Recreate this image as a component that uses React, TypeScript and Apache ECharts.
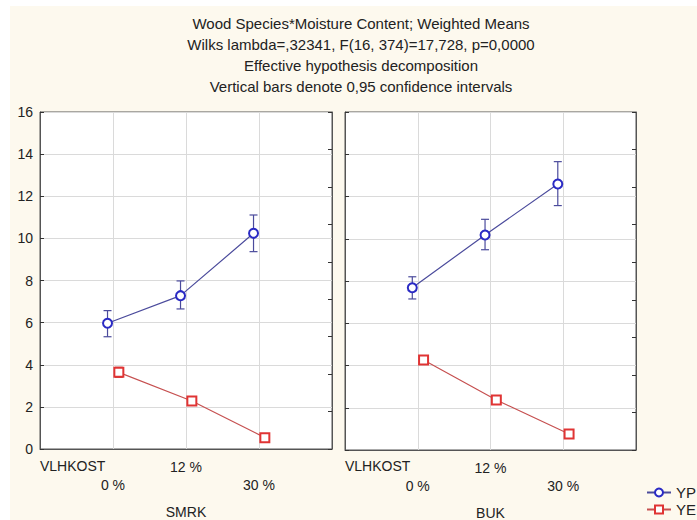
import React, { useEffect, useRef } from "react";
import * as echarts from "echarts";

const categories = ["0 %", "12 %", "30 %"];
const panels = ["SMRK", "BUK"];

const smrkYP = [5.97, 7.28, 10.24];
const smrkYPLow = [5.33, 6.65, 9.37];
const smrkYPHigh = [6.57, 7.98, 11.11];
const smrkYE = [3.64, 2.28, 0.54];
const smrkYELow = [3.4, 2.18, 0.46];
const smrkYEHigh = [3.88, 2.38, 0.62];

const bukYP = [7.68, 10.18, 12.59];
const bukYPLow = [7.15, 9.48, 11.57];
const bukYPHigh = [8.2, 10.92, 13.65];
const bukYE = [4.26, 2.37, 0.76];
const bukYELow = [4.16, 2.27, 0.68];
const bukYEHigh = [4.36, 2.47, 0.84];

const titleLines = [
  "Wood Species*Moisture Content; Weighted Means",
  "Wilks lambda=,32341, F(16, 374)=17,728, p=0,0000",
  "Effective hypothesis decomposition",
  "Vertical bars denote 0,95 confidence intervals",
];

const FONT = "Liberation Sans, Arial, sans-serif";
const YP_COLOR = "#2a2ac4";
const YP_LINE = "#4b4b9c";
const YE_COLOR = "#e03434";
const YE_LINE = "#c65050";
const OFF_YP = -0.075;
const OFF_YE = 0.08;

function pts(vals: number[], off: number) {
  return vals.map((v, i) => [i + 1 + off, v]);
}
function errs(lo: number[], hi: number[], off: number) {
  return lo.map((l, i) => [i + 1 + off, l, hi[i]]);
}

function errSeries(name: string, data: number[][], idx: number, color: string, cap: number) {
  return {
    type: "custom",
    name,
    xAxisIndex: idx,
    yAxisIndex: idx,
    data,
    z: 3,
    renderItem: (params: any, api: any) => {
      const x = api.value(0);
      const lo = api.coord([x, api.value(1)]);
      const hi = api.coord([x, api.value(2)]);
      const st = { stroke: color, lineWidth: 1.2 };
      return {
        type: "group",
        children: [
          { type: "line", shape: { x1: lo[0], y1: lo[1], x2: hi[0], y2: hi[1] }, style: st },
          { type: "line", shape: { x1: lo[0] - cap, y1: lo[1], x2: lo[0] + cap, y2: lo[1] }, style: st },
          { type: "line", shape: { x1: hi[0] - cap, y1: hi[1], x2: hi[0] + cap, y2: hi[1] }, style: st },
        ],
      };
    },
  };
}

function lineSeries(name: string, data: number[][], idx: number, lineColor: string, color: string, symbol: string) {
  return {
    type: "line",
    name,
    xAxisIndex: idx,
    yAxisIndex: idx,
    data,
    symbol,
    symbolSize: 9,
    z: 4,
    lineStyle: { color: lineColor, width: 1.2 },
    itemStyle: { color, borderColor: color, borderWidth: 2 },
  };
}

export default function App() {
  const ref = useRef<HTMLDivElement>(null);
  useEffect(() => {
    if (!ref.current) return;
    const chart = echarts.init(ref.current, null, { renderer: "svg" });
    const grids = [
      { left: 40, top: 112, width: 292, height: 337 },
      { left: 345, top: 112, width: 291, height: 338 },
    ];
    const xAxes = grids.map((_, i) => ({
      type: "value",
      gridIndex: i,
      min: 0,
      max: 4,
      interval: 1,
      name: panels[i],
      nameLocation: "middle",
      nameGap: 56,
      nameTextStyle: { fontFamily: FONT, fontSize: 14, color: "#222" },
      axisLine: { show: true, lineStyle: { color: "#555" } },
      axisTick: { show: false },
      splitLine: { show: true, lineStyle: { color: "#dadada" } },
      axisLabel: {
        fontFamily: FONT,
        fontSize: 14,
        color: "#222",
        margin: 9,
        lineHeight: 18,
        showMinLabel: false,
        showMaxLabel: false,
        formatter: (v: number) => {
          const k = Math.round(v) - 1;
          if (k < 0 || k >= categories.length) return "";
          return k % 2 === 1 ? categories[k] + "\n " : " \n" + categories[k];
        },
      },
    }));
    const yMain = grids.map((_, i) => ({
      type: "value",
      gridIndex: i,
      min: 0,
      max: 16,
      interval: 2,
      axisLine: { show: true, lineStyle: { color: "#555" } },
      axisTick: { show: true, inside: true, length: 4, lineStyle: { color: "#333" } },
      splitLine: { show: true, lineStyle: { color: "#dadada" } },
      axisLabel: {
        show: i === 0,
        fontFamily: FONT,
        fontSize: 14,
        color: "#222",
        margin: 7,
      },
    }));
    const yRight = grids.map((_, i) => ({
      type: "value",
      gridIndex: i,
      position: "right",
      min: 0,
      max: 9,
      interval: 1,
      axisLine: { show: true, lineStyle: { color: "#555" } },
      axisTick: { show: true, inside: true, length: 4, lineStyle: { color: "#333" } },
      splitLine: { show: false },
      axisLabel: { show: false },
    }));

    const option = {
      animation: false,
      backgroundColor: "transparent",
      title: {
        text: titleLines.join("\n"),
        left: 356,
        top: 8,
        textAlign: "center",
        textStyle: { fontFamily: FONT, fontSize: 15, fontWeight: "normal", color: "#222", lineHeight: 21 },
      },
      legend: {
        data: ["YP", "YE"],
        orient: "vertical",
        left: 646,
        top: 484,
        padding: 0,
        itemWidth: 24,
        itemHeight: 10,
        itemGap: 0,
        textStyle: { fontFamily: FONT, fontSize: 15, color: "#222", lineHeight: 17 },
      },
      grid: grids.map((g) => ({
        ...g,
        show: true,
        backgroundColor: "#fff",
        borderColor: "#555",
        borderWidth: 1,
        outerBoundsMode: "none",
        containLabel: false,
      })),
      xAxis: xAxes,
      yAxis: [...yMain, ...yRight],
      graphic: [
        { type: "text", left: 40, top: 459, style: { text: "VLHKOST", fontFamily: FONT, fontSize: 14, fill: "#222" } },
        { type: "text", left: 345, top: 459, style: { text: "VLHKOST", fontFamily: FONT, fontSize: 14, fill: "#222" } },
      ],
      series: [
        lineSeries("YP", pts(smrkYP, OFF_YP), 0, YP_LINE, YP_COLOR, "emptyCircle"),
        lineSeries("YE", pts(smrkYE, OFF_YE), 0, YE_LINE, YE_COLOR, "emptyRect"),
        lineSeries("YP", pts(bukYP, OFF_YP), 1, YP_LINE, YP_COLOR, "emptyCircle"),
        lineSeries("YE", pts(bukYE, OFF_YE), 1, YE_LINE, YE_COLOR, "emptyRect"),
        errSeries("YP", errs(smrkYPLow, smrkYPHigh, OFF_YP), 0, YP_LINE, 4),
        errSeries("YE", errs(smrkYELow, smrkYEHigh, OFF_YE), 0, YE_LINE, 4),
        errSeries("YP", errs(bukYPLow, bukYPHigh, OFF_YP), 1, YP_LINE, 4),
        errSeries("YE", errs(bukYELow, bukYEHigh, OFF_YE), 1, YE_LINE, 4),
      ],
    };
    chart.setOption(option as any);
    return () => chart.dispose();
  }, []);

  return (
    <div style={{ position: "fixed", left: 0, top: 0, width: 697, height: 520, background: "#fff" }}>
      <div style={{ position: "absolute", left: 10, top: 6, right: 0, bottom: 0, background: "#fdf9ee" }} />
      <div ref={ref} style={{ position: "absolute", left: 0, top: 0, width: 697, height: 520 }} />
    </div>
  );
}
